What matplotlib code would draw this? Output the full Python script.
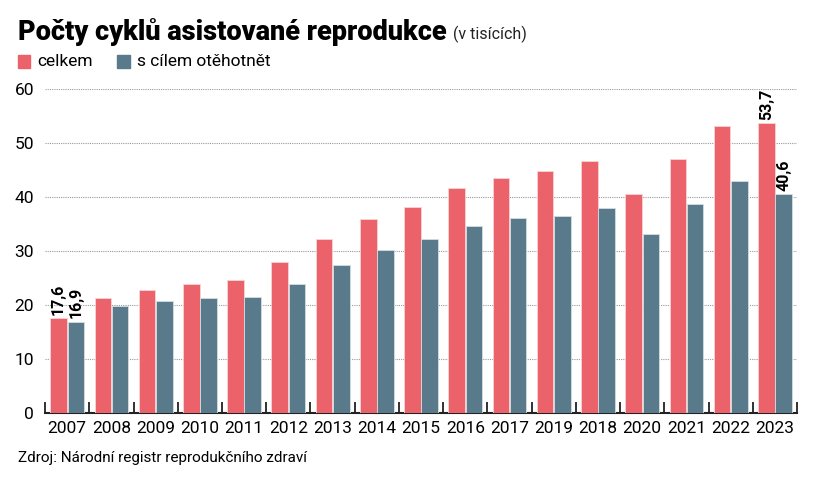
import numpy as np
import matplotlib
matplotlib.use("Agg")
import matplotlib.pyplot as plt

plt.rcParams['font.family'] = ['Roboto', 'DejaVu Sans']

years = ['2007', '2008', '2009', '2010', '2011', '2012', '2013', '2014', '2015',
         '2016', '2017', '2019', '2018', '2020', '2021', '2022', '2023']
celkem = [17.6, 21.3, 22.8, 23.8, 24.6, 28.0, 32.2, 35.9, 38.1,
          41.6, 43.5, 44.8, 46.6, 40.5, 47.0, 53.1, 53.7]
otehotnet = [16.9, 19.8, 20.7, 21.3, 21.4, 23.8, 27.4, 30.2, 32.2,
             34.7, 36.1, 36.5, 38.0, 33.2, 38.7, 42.9, 40.6]
labelled = {0: (17.6, 16.9), 16: (53.7, 40.6)}

RED = '#EB626A'
BLUE = '#587A8A'
NARROW = ['Liberation Sans Narrow', 'Roboto', 'DejaVu Sans']

fig = plt.figure(figsize=(8.2, 4.8), dpi=100)
ax = fig.add_axes([0.055, 0.1396, 0.917, 0.675])

x = np.arange(len(years))
w = 0.375
ax.bar(x - 0.195, celkem, w, color=RED, edgecolor='#f7d4d6', linewidth=0.6, zorder=3)
ax.bar(x + 0.195, otehotnet, w, color=BLUE, edgecolor='#d4dee2', linewidth=0.6, zorder=3)

for i, (a, b) in labelled.items():
    ax.text(i - 0.195, a + 0.6, f"{a:.1f}".replace('.', ','), rotation=90,
            ha='center', va='bottom', fontsize=11.5, fontweight='bold', family=NARROW)
    ax.text(i + 0.195, b + 0.6, f"{b:.1f}".replace('.', ','), rotation=90,
            ha='center', va='bottom', fontsize=11.5, fontweight='bold', family=NARROW)

ax.set_xlim(-0.5, len(years) - 0.5)
ax.set_ylim(0, 60)
ax.set_yticks(range(0, 61, 10))
ax.set_xticks(x)
ax.set_xticklabels(years, fontsize=12.5)
ax.set_xticks(np.arange(-0.5, len(years)), minor=True)
ax.tick_params(axis='x', which='major', length=0, pad=6)
ax.tick_params(axis='x', which='minor', direction='in', length=8, width=1.3, color='#222222')
ax.tick_params(axis='y', length=0, labelsize=12.5, pad=8)
ax.yaxis.grid(True, linestyle=(0, (1, 1)), color='#999999', linewidth=0.8, zorder=0)
for s in ['top', 'right', 'left']:
    ax.spines[s].set_visible(False)
ax.spines['bottom'].set_color('#222222')
ax.spines['bottom'].set_linewidth(1.5)

title = fig.text(0.022, 0.933, 'Počty cyklů asistované reprodukce', fontsize=19.5,
                 fontweight='heavy', va='center', ha='left')
fig.canvas.draw()
bb = title.get_window_extent(renderer=fig.canvas.get_renderer())
fig.text(bb.x1 / fig.bbox.width + 0.008, 0.928, '(v tisících)', fontsize=11.5,
         va='center', ha='left', color='#222222')

fig.patches.append(plt.Rectangle((0.022, 0.858), 0.015, 0.027, color=RED, transform=fig.transFigure))
fig.text(0.046, 0.871, 'celkem', fontsize=12.5, va='center', ha='left')
fig.patches.append(plt.Rectangle((0.143, 0.858), 0.015, 0.027, color=BLUE, transform=fig.transFigure))
fig.text(0.167, 0.871, 's cílem otěhotnět', fontsize=12.5, va='center', ha='left')

fig.text(0.022, 0.045, 'Zdroj: Národní registr reprodukčního zdraví', fontsize=11,
         va='center', ha='left')

fig.savefig('out.png', dpi=100)
